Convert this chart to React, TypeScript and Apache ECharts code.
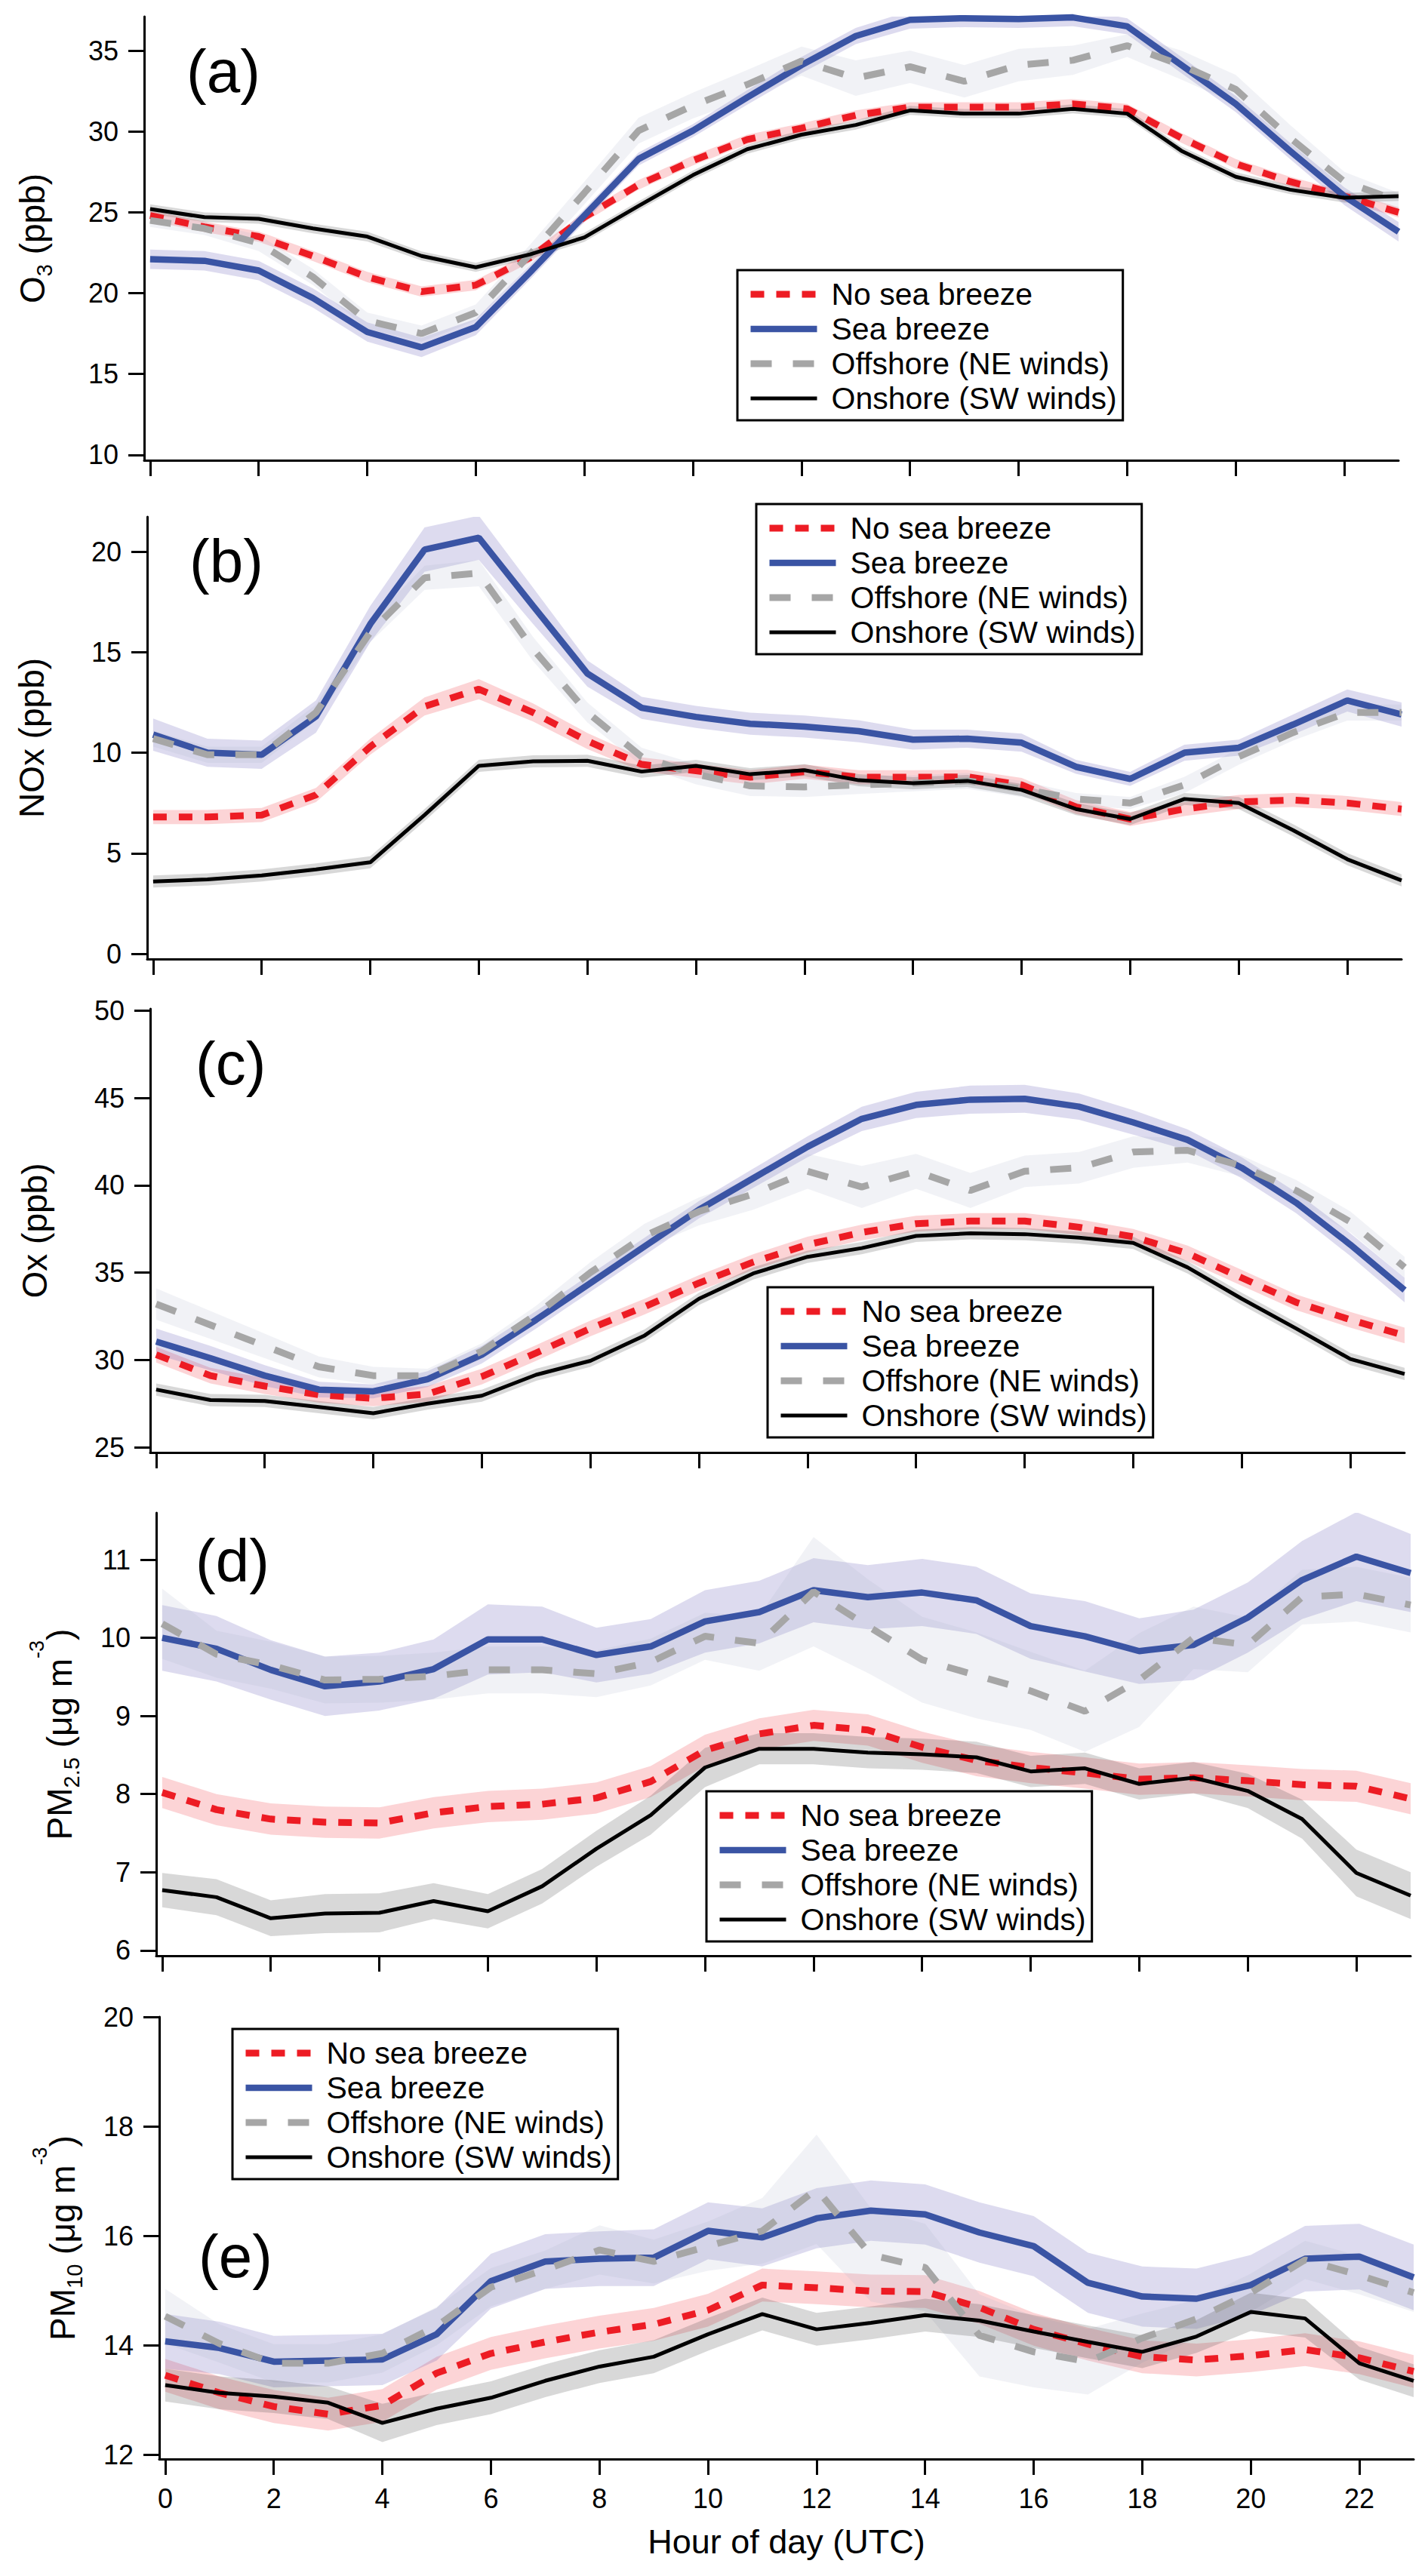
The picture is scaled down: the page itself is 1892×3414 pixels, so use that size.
import React, { useEffect, useRef } from "react";
import * as echarts from "echarts";

// ---------- data ----------
const hours = [0, 1, 2, 3, 4, 5, 6, 7, 8, 9, 10, 11, 12, 13, 14, 15, 16, 17, 18, 19, 20, 21, 22, 23];
const xTicks = [0, 2, 4, 6, 8, 10, 12, 14, 16, 18, 20, 22];

const seriesNames = ["No sea breeze", "Sea breeze", "Offshore (NE winds)", "Onshore (SW winds)"];
const panelLabels = ["(a)", "(b)", "(c)", "(d)", "(e)"];
const yNames = [
  "{n|O}{s|3}{n| (ppb)}",
  "{n|NOx (ppb)}",
  "{n|Ox (ppb)}",
  "{n|PM}{s|2.5}{n| (μg m}{p|-3}{n|)}",
  "{n|PM}{s|10}{n| (μg m}{p|-3}{n|)}",
];
const yTicksA = [10, 15, 20, 25, 30, 35];
const yTicksB = [0, 5, 10, 15, 20];
const yTicksC = [25, 30, 35, 40, 45, 50];
const yTicksD = [6, 7, 8, 9, 10, 11];
const yTicksE = [12, 14, 16, 18, 20];

// (a) O3
const aNo = [24.8, 24.1, 23.5, 22.3, 21.0, 20.1, 20.5, 22.2, 24.7, 26.7, 28.2, 29.5, 30.2, 31.0, 31.5, 31.5, 31.5, 31.7, 31.4, 29.6, 28.0, 26.9, 26.0, 25.0];
const aSea = [22.1, 22.0, 21.4, 19.7, 17.6, 16.65, 17.9, 21.3, 24.8, 28.3, 30.05, 32.1, 34.1, 35.9, 36.9, 37.0, 36.95, 37.05, 36.5, 34.1, 31.7, 28.8, 26.0, 23.8];
const aOff = [24.5, 24.0, 23.1, 21.0, 18.3, 17.5, 18.8, 22.4, 26.2, 30.05, 31.6, 32.9, 34.35, 33.3, 34.0, 33.1, 34.1, 34.4, 35.3, 34.1, 32.6, 29.6, 26.9, 25.7];
const aOn = [25.2, 24.7, 24.6, 24.0, 23.5, 22.3, 21.6, 22.4, 23.45, 25.4, 27.3, 28.9, 29.8, 30.4, 31.3, 31.1, 31.1, 31.4, 31.1, 28.8, 27.2, 26.4, 25.9, 26.0];
const aNoErr = [0.32, 0.32, 0.32, 0.32, 0.32, 0.32, 0.32, 0.3, 0.3, 0.3, 0.3, 0.3, 0.3, 0.3, 0.3, 0.3, 0.3, 0.3, 0.3, 0.3, 0.3, 0.3, 0.3, 0.32];
const aSeaErr = [0.6, 0.6, 0.6, 0.6, 0.6, 0.6, 0.5, 0.45, 0.4, 0.4, 0.4, 0.45, 0.5, 0.5, 0.55, 0.55, 0.55, 0.55, 0.5, 0.5, 0.5, 0.5, 0.55, 0.6];
const aOffErr = [0.4, 0.4, 0.5, 0.5, 0.5, 0.5, 0.5, 0.6, 0.7, 0.8, 0.8, 0.9, 0.9, 1.1, 1.0, 1.0, 1.0, 0.9, 0.7, 0.9, 0.9, 0.8, 0.6, 0.5];
const aOnErr = [0.3, 0.3, 0.3, 0.3, 0.3, 0.28, 0.28, 0.28, 0.28, 0.28, 0.28, 0.28, 0.28, 0.28, 0.28, 0.28, 0.28, 0.28, 0.28, 0.28, 0.28, 0.28, 0.3, 0.3];

// (b) NOx
const bNo = [6.8, 6.8, 6.9, 7.9, 10.3, 12.3, 13.16, 12.0, 10.58, 9.42, 9.1, 8.78, 9.06, 8.78, 8.78, 8.8, 8.4, 7.3, 6.7, 7.2, 7.55, 7.65, 7.5, 7.2];
const bSea = [10.9, 10.0, 9.9, 11.8, 16.4, 20.1, 20.69, 17.3, 13.94, 12.23, 11.78, 11.44, 11.3, 11.07, 10.65, 10.7, 10.5, 9.3, 8.7, 10.0, 10.25, 11.4, 12.6, 11.9];
const bOff = [10.7, 9.9, 9.9, 12.0, 16.0, 18.7, 18.93, 15.15, 12.0, 9.8, 8.93, 8.35, 8.3, 8.4, 8.48, 8.6, 8.2, 7.7, 7.5, 8.4, 9.8, 11.0, 12.0, 12.0];
const bOn = [3.6, 3.7, 3.9, 4.2, 4.55, 6.9, 9.35, 9.57, 9.6, 9.06, 9.35, 8.93, 9.13, 8.63, 8.48, 8.6, 8.15, 7.2, 6.7, 7.7, 7.5, 6.15, 4.7, 3.65];
const bNoErr = [0.35, 0.35, 0.35, 0.35, 0.4, 0.45, 0.5, 0.45, 0.4, 0.35, 0.35, 0.35, 0.35, 0.35, 0.35, 0.35, 0.35, 0.35, 0.35, 0.35, 0.35, 0.35, 0.35, 0.35];
const bSeaErr = [0.8, 0.7, 0.7, 0.8, 0.9, 1.1, 1.1, 0.9, 0.65, 0.55, 0.55, 0.55, 0.55, 0.55, 0.5, 0.45, 0.45, 0.35, 0.35, 0.4, 0.4, 0.5, 0.55, 0.6];
const bOffErr = [0.4, 0.4, 0.4, 0.4, 0.5, 0.6, 0.65, 0.6, 0.5, 0.45, 0.5, 0.5, 0.5, 0.45, 0.4, 0.4, 0.4, 0.3, 0.3, 0.4, 0.4, 0.4, 0.4, 0.4];
const bOnErr = [0.3, 0.3, 0.3, 0.3, 0.3, 0.3, 0.3, 0.3, 0.3, 0.3, 0.3, 0.3, 0.3, 0.3, 0.3, 0.3, 0.3, 0.3, 0.3, 0.3, 0.3, 0.3, 0.3, 0.3];

// (c) Ox
const cNo = [30.3, 29.1, 28.5, 28.0, 27.8, 28.05, 29.05, 30.4, 31.8, 33.05, 34.4, 35.6, 36.6, 37.3, 37.8, 37.95, 37.95, 37.6, 37.05, 36.1, 34.7, 33.3, 32.3, 31.4];
const cSea = [31.05, 30.1, 29.1, 28.3, 28.2, 28.9, 30.3, 32.3, 34.4, 36.5, 38.6, 40.4, 42.2, 43.8, 44.6, 44.9, 44.95, 44.5, 43.6, 42.6, 41.0, 39.0, 36.6, 34.0];
const cOff = [33.2, 32.0, 30.8, 29.6, 29.1, 29.1, 30.5, 32.6, 35.0, 37.1, 38.5, 39.5, 40.8, 39.9, 40.8, 39.7, 40.8, 41.0, 41.9, 42.0, 41.1, 39.7, 37.9, 35.3];
const cOn = [28.3, 27.7, 27.65, 27.3, 26.95, 27.5, 27.95, 29.15, 29.95, 31.4, 33.5, 34.95, 35.9, 36.4, 37.1, 37.25, 37.2, 37.0, 36.7, 35.3, 33.5, 31.8, 30.05, 29.2];
const cNoErr = [0.45, 0.45, 0.45, 0.45, 0.45, 0.45, 0.45, 0.45, 0.45, 0.45, 0.45, 0.45, 0.45, 0.45, 0.45, 0.45, 0.45, 0.45, 0.45, 0.45, 0.45, 0.45, 0.45, 0.45];
const cSeaErr = [0.75, 0.7, 0.6, 0.45, 0.4, 0.45, 0.5, 0.5, 0.5, 0.5, 0.5, 0.55, 0.6, 0.7, 0.75, 0.8, 0.8, 0.75, 0.7, 0.6, 0.6, 0.6, 0.65, 0.7];
const cOffErr = [0.9, 0.8, 0.7, 0.6, 0.5, 0.4, 0.45, 0.5, 0.6, 0.7, 0.8, 0.9, 1.0, 1.2, 1.0, 1.0, 0.9, 0.9, 0.9, 0.7, 0.6, 0.6, 0.6, 0.6];
const cOnErr = [0.35, 0.35, 0.35, 0.35, 0.35, 0.35, 0.35, 0.35, 0.35, 0.35, 0.35, 0.35, 0.35, 0.35, 0.35, 0.35, 0.35, 0.35, 0.35, 0.35, 0.35, 0.35, 0.35, 0.35];

// (d) PM2.5
const dNo = [8.02, 7.8, 7.68, 7.64, 7.63, 7.76, 7.84, 7.87, 7.95, 8.16, 8.56, 8.77, 8.88, 8.82, 8.6, 8.43, 8.34, 8.27, 8.19, 8.21, 8.17, 8.12, 8.1, 7.94];
const dSea = [10.0, 9.86, 9.59, 9.38, 9.44, 9.6, 9.98, 9.98, 9.78, 9.89, 10.21, 10.33, 10.61, 10.52, 10.58, 10.48, 10.15, 10.02, 9.83, 9.91, 10.26, 10.74, 11.04, 10.83];
const dOff = [10.18, 9.79, 9.65, 9.46, 9.47, 9.51, 9.59, 9.59, 9.54, 9.69, 10.02, 9.93, 10.59, 10.15, 9.72, 9.52, 9.32, 9.06, 9.46, 10.0, 9.91, 10.52, 10.56, 10.42];
const dOn = [6.77, 6.68, 6.41, 6.47, 6.48, 6.63, 6.5, 6.82, 7.3, 7.73, 8.34, 8.58, 8.58, 8.53, 8.51, 8.47, 8.29, 8.33, 8.13, 8.21, 8.04, 7.68, 6.99, 6.7];
const dNoErr = [0.2, 0.2, 0.2, 0.2, 0.2, 0.2, 0.2, 0.2, 0.2, 0.2, 0.2, 0.2, 0.2, 0.2, 0.2, 0.2, 0.2, 0.2, 0.2, 0.2, 0.2, 0.2, 0.2, 0.2];
const dSeaErr = [0.42, 0.42, 0.38, 0.38, 0.37, 0.38, 0.45, 0.42, 0.35, 0.35, 0.4, 0.4, 0.41, 0.41, 0.43, 0.43, 0.42, 0.45, 0.42, 0.45, 0.45, 0.5, 0.57, 0.5];
const dOffErr = [0.45, 0.3, 0.3, 0.3, 0.3, 0.3, 0.3, 0.3, 0.3, 0.3, 0.3, 0.35, 0.7, 0.6, 0.55, 0.55, 0.5, 0.52, 0.6, 0.4, 0.35, 0.35, 0.35, 0.35];
const dOnErr = [0.22, 0.23, 0.23, 0.25, 0.25, 0.23, 0.22, 0.22, 0.23, 0.25, 0.25, 0.2, 0.2, 0.2, 0.2, 0.2, 0.2, 0.2, 0.2, 0.2, 0.22, 0.25, 0.3, 0.3];

// (e) PM10
const eNo = [13.45, 13.13, 12.88, 12.74, 12.9, 13.49, 13.85, 14.06, 14.24, 14.38, 14.64, 15.1, 15.05, 14.99, 14.98, 14.69, 14.29, 14.02, 13.79, 13.73, 13.81, 13.92, 13.77, 13.52];
const eSea = [14.07, 13.95, 13.7, 13.72, 13.74, 14.2, 15.17, 15.53, 15.58, 15.6, 16.09, 15.97, 16.32, 16.46, 16.39, 16.06, 15.81, 15.14, 14.89, 14.85, 15.1, 15.58, 15.62, 15.24];
const eOff = [14.53, 14.03, 13.67, 13.67, 13.85, 14.35, 15.06, 15.38, 15.74, 15.53, 15.81, 16.09, 16.85, 15.65, 15.42, 14.18, 13.88, 13.7, 14.13, 14.48, 14.96, 15.56, 15.28, 14.96];
const eOn = [13.27, 13.13, 13.06, 12.95, 12.58, 12.84, 13.04, 13.35, 13.61, 13.79, 14.2, 14.57, 14.29, 14.41, 14.55, 14.45, 14.25, 14.06, 13.88, 14.16, 14.61, 14.49, 13.67, 13.35];
const eNoErr = [0.3, 0.3, 0.3, 0.3, 0.3, 0.3, 0.3, 0.3, 0.3, 0.3, 0.3, 0.3, 0.3, 0.3, 0.3, 0.3, 0.3, 0.3, 0.3, 0.3, 0.3, 0.3, 0.3, 0.3];
const eSeaErr = [0.5, 0.48, 0.47, 0.47, 0.47, 0.48, 0.5, 0.5, 0.5, 0.52, 0.52, 0.53, 0.55, 0.55, 0.55, 0.55, 0.55, 0.55, 0.55, 0.55, 0.55, 0.6, 0.6, 0.6];
const eOffErr = [0.5, 0.35, 0.35, 0.35, 0.35, 0.35, 0.35, 0.35, 0.45, 0.4, 0.45, 0.6, 1.0, 0.85, 0.8, 0.75, 0.65, 0.6, 0.45, 0.35, 0.35, 0.35, 0.35, 0.35];
const eOnErr = [0.3, 0.3, 0.3, 0.3, 0.35, 0.3, 0.3, 0.3, 0.3, 0.3, 0.3, 0.3, 0.3, 0.3, 0.3, 0.3, 0.3, 0.3, 0.3, 0.3, 0.35, 0.35, 0.3, 0.3];

// ---------- styling / layout (not data) ----------
const FONT = "'Liberation Sans', Arial, Helvetica, sans-serif";
const LABEL_FONT = "'Liberation Sans Narrow', 'Liberation Sans', Arial, sans-serif";

const STYLES = [
  { color: "#ed1c24", width: 9, type: [18, 16] as any, band: "rgba(240,40,50,0.2)", z: 2 },
  { color: "#3a54a4", width: 8.5, type: "solid" as any, band: "rgba(100,90,180,0.22)", z: 3 },
  { color: "#a6a6a6", width: 9, type: [28, 28] as any, band: "rgba(170,180,200,0.17)", z: 4 },
  { color: "#000000", width: 5, type: "solid" as any, band: "rgba(60,60,60,0.2)", z: 5 },
];

const LAYOUT = [
  { left: 191, top: 22, height: 588, yMin: 9.67, yMax: 37.1, nameGap: 123, legendLeft: 977, legendTop: 358, labelX: 247, labelY: 94 },
  { left: 195, top: 685, height: 586, yMin: -0.26, yMax: 21.73, nameGap: 128, legendLeft: 1002, legendTop: 668, labelX: 251, labelY: 743 },
  { left: 199, top: 1337, height: 588, yMin: 24.7, yMax: 50.1, nameGap: 128, legendLeft: 1017, legendTop: 1706, labelX: 259, labelY: 1409 },
  { left: 207, top: 2005, height: 587, yMin: 5.93, yMax: 11.6, nameGap: 92, legendLeft: 936, legendTop: 2374, labelX: 259, labelY: 2068 },
  { left: 211, top: 2673, height: 586, yMin: 11.92, yMax: 20, nameGap: 92, legendLeft: 308, legendTop: 2689, labelX: 263, labelY: 2990 },
];
const GRID_WIDTH = 1662;

const PANELS = [
  { vals: [aNo, aSea, aOff, aOn], errs: [aNoErr, aSeaErr, aOffErr, aOnErr], yTicks: yTicksA },
  { vals: [bNo, bSea, bOff, bOn], errs: [bNoErr, bSeaErr, bOffErr, bOnErr], yTicks: yTicksB },
  { vals: [cNo, cSea, cOff, cOn], errs: [cNoErr, cSeaErr, cOffErr, cOnErr], yTicks: yTicksC },
  { vals: [dNo, dSea, dOff, dOn], errs: [dNoErr, dSeaErr, dOffErr, dOnErr], yTicks: yTicksD },
  { vals: [eNo, eSea, eOff, eOn], errs: [eNoErr, eSeaErr, eOffErr, eOnErr], yTicks: yTicksE },
];

const RICH = {
  n: { fontSize: 46, lineHeight: 50, fontFamily: FONT, color: "#000", verticalAlign: "middle" },
  s: { fontSize: 29, lineHeight: 29, padding: [32, 0, 0, 0], fontFamily: FONT, color: "#000", verticalAlign: "middle" },
  p: { fontSize: 27, lineHeight: 27, padding: [0, 0, 60, 0], fontFamily: FONT, color: "#000", verticalAlign: "middle" },
};

function bandSeries(pi: number, vals: number[], errs: number[], color: string, z: number) {
  const lo = vals.map((v, k) => v - errs[k]);
  const hi = vals.map((v, k) => v + errs[k]);
  return {
    type: "custom",
    xAxisIndex: pi,
    yAxisIndex: pi,
    silent: true,
    z,
    clip: true,
    data: hours.map((h, k) => [h, lo[k], hi[k]]),
    encode: { x: 0, y: [1, 2] },
    renderItem: (params: any, api: any) => {
      if (params.dataIndex !== 0) return null;
      const pts: number[][] = [];
      for (let k = 0; k < hours.length; k++) pts.push(api.coord([hours[k], hi[k]]));
      for (let k = hours.length - 1; k >= 0; k--) pts.push(api.coord([hours[k], lo[k]]));
      return { type: "polygon", shape: { points: pts }, style: { fill: color } };
    },
  };
}

function buildOption() {
  const series: any[] = [];
  PANELS.forEach((p, pi) => {
    p.vals.forEach((vals, si) => {
      series.push(bandSeries(pi, vals, p.errs[si], STYLES[si].band, 1));
    });
    p.vals.forEach((vals, si) => {
      const st = STYLES[si];
      series.push({
        type: "line",
        name: seriesNames[si],
        xAxisIndex: pi,
        yAxisIndex: pi,
        data: hours.map((h, k) => [h, vals[k]]),
        symbol: "none",
        showSymbol: false,
        silent: true,
        z: st.z,
        color: st.color,
        lineStyle: { color: st.color, width: st.width, type: st.type },
        itemStyle: { color: st.color },
      });
    });
  });

  return {
    animation: false,
    backgroundColor: "#ffffff",
    grid: LAYOUT.map((l) => ({ left: l.left, top: l.top, width: GRID_WIDTH, height: l.height, containLabel: false })),
    xAxis: LAYOUT.map((l, i) => ({
      type: "value",
      gridIndex: i,
      min: -0.11,
      max: 23,
      axisLine: { show: true, onZero: false, lineStyle: { color: "#000", width: 3 } },
      axisTick: { show: true, inside: false, length: 21, lineStyle: { color: "#000", width: 3 }, customValues: xTicks },
      axisLabel: { show: i === 4, customValues: xTicks, fontSize: 36, fontFamily: FONT, color: "#000", margin: 34 },
      splitLine: { show: false },
      name: i === 4 ? "Hour of day (UTC)" : "",
      nameLocation: "middle",
      nameGap: 87,
      nameTextStyle: { fontSize: 45, fontFamily: FONT, color: "#000" },
    })),
    yAxis: LAYOUT.map((l, i) => ({
      type: "value",
      gridIndex: i,
      min: l.yMin,
      max: l.yMax,
      axisLine: { show: true, onZero: false, lineStyle: { color: "#000", width: 3 } },
      axisTick: { show: true, inside: false, length: 21, lineStyle: { color: "#000", width: 3 }, customValues: PANELS[i].yTicks },
      axisLabel: { show: true, customValues: PANELS[i].yTicks, fontSize: 36, fontFamily: FONT, color: "#000", margin: 34 },
      splitLine: { show: false },
      name: yNames[i],
      nameLocation: "middle",
      nameGap: l.nameGap,
      nameRotate: 90,
      nameTextStyle: { fontSize: 46, fontFamily: FONT, color: "#000", rich: RICH },
    })),
    legend: LAYOUT.map((l) => ({
      orient: "vertical",
      left: l.legendLeft,
      top: l.legendTop,
      itemWidth: 88,
      itemHeight: 12,
      itemGap: 0,
      padding: [9, 8, 6, 13],
      borderColor: "#000",
      borderWidth: 3,
      backgroundColor: "#fff",
      selectedMode: false,
      textStyle: { fontSize: 41, fontFamily: FONT, color: "#000", lineHeight: 46, padding: [0, 0, 0, 14] },
      data: seriesNames.map((name, si) => ({
        name,
        itemStyle: { opacity: 0 },
        lineStyle: { color: STYLES[si].color, width: STYLES[si].width, type: STYLES[si].type, opacity: 1 },
      })),
    })),
    graphic: LAYOUT.map((l, i) => ({
      type: "text",
      x: l.labelX,
      y: l.labelY,
      z: 100,
      style: {
        text: panelLabels[i],
        fontSize: 80,
        fontFamily: LABEL_FONT,
        fill: "#000",
        align: "left",
        verticalAlign: "middle",
      },
    })),
    series,
  };
}

export default function App() {
  const ref = useRef<HTMLDivElement | null>(null);
  useEffect(() => {
    if (!ref.current) return;
    const chart = echarts.init(ref.current, null, { renderer: "svg" });
    chart.setOption(buildOption() as any);
    return () => chart.dispose();
  }, []);
  return (
    <div
      ref={ref}
      style={{ position: "absolute", left: 0, top: 0, width: 1892, height: 3414, background: "#fff" }}
    />
  );
}
